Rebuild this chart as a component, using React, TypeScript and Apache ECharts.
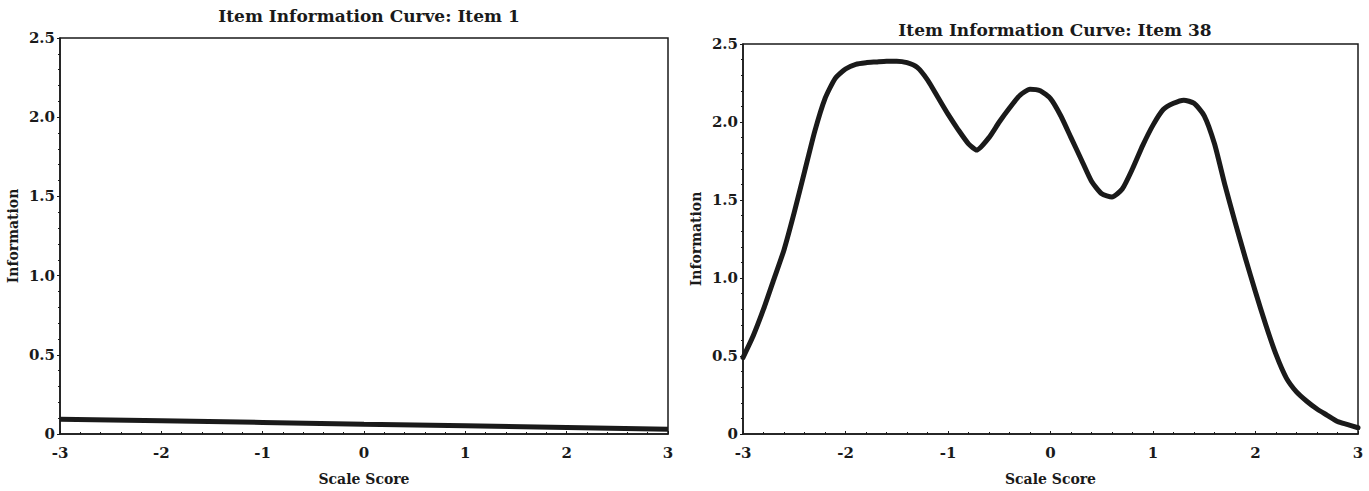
import React, { useEffect, useRef } from "react";
import * as echarts from "echarts";

const xTicks = [-3, -2, -1, 0, 1, 2, 3];
const yTicks = [0, 0.5, 1.0, 1.5, 2.0, 2.5];

const item1X = [-3, -2, -1, 0, 1, 2, 3];
const item1Y = [0.093, 0.083, 0.073, 0.062, 0.052, 0.041, 0.03];

const item38X = [
  -3.0, -2.9, -2.8, -2.7, -2.6, -2.5, -2.4, -2.3, -2.2, -2.1, -2.0, -1.9, -1.8, -1.7, -1.6, -1.5,
  -1.4, -1.3, -1.2, -1.1, -1.0, -0.9, -0.8, -0.72, -0.6, -0.5, -0.4, -0.3, -0.2, -0.1, 0.0, 0.1,
  0.2, 0.3, 0.4, 0.5, 0.6, 0.7, 0.8, 0.9, 1.0, 1.1, 1.2, 1.3, 1.4, 1.5, 1.6, 1.7, 1.8, 1.9, 2.0,
  2.1, 2.2, 2.3, 2.4, 2.5, 2.6, 2.7, 2.8, 2.9, 3.0,
];
const item38Y = [
  0.49, 0.63, 0.8, 0.99, 1.18, 1.42, 1.68, 1.94, 2.15, 2.28, 2.34, 2.37, 2.38, 2.385, 2.39, 2.39,
  2.38, 2.35, 2.27, 2.16, 2.05, 1.95, 1.86, 1.82, 1.9, 2.0, 2.09, 2.17, 2.21, 2.2, 2.15, 2.04,
  1.9, 1.76, 1.62, 1.54, 1.52, 1.57, 1.7, 1.85, 1.98, 2.08, 2.12, 2.14, 2.12, 2.04, 1.86, 1.6,
  1.36, 1.13, 0.91, 0.7, 0.51, 0.36, 0.27, 0.21, 0.16, 0.12, 0.08, 0.06, 0.04,
];

const titles = ["Item Information Curve: Item 1", "Item Information Curve: Item 38"];

const FONT = "'DejaVu Serif', 'Liberation Serif', serif";
const INK = "#1a1a1a";

function xAxisFor(gridIndex: number) {
  return {
    type: "value",
    gridIndex,
    min: xTicks[0],
    max: xTicks[xTicks.length - 1],
    interval: 1,
    name: "Scale Score",
    nameLocation: "middle",
    nameGap: 38,
    nameTextStyle: { fontFamily: FONT, fontWeight: "bold", fontSize: 14, color: INK },
    axisLine: { show: true, onZero: false, lineStyle: { color: INK, width: 1.5 } },
    axisTick: { show: true, inside: true, length: 3, lineStyle: { color: INK } },
    minorTick: { show: true, splitNumber: 5, length: 2, lineStyle: { color: INK } },
    splitLine: { show: false },
    axisLabel: {
      fontFamily: FONT,
      fontWeight: "bold",
      fontSize: 15,
      color: INK,
      margin: 11,
      formatter: (v: number) => String(v),
    },
  };
}

function yAxisFor(gridIndex: number) {
  return {
    type: "value",
    gridIndex,
    min: yTicks[0],
    max: yTicks[yTicks.length - 1],
    interval: 0.5,
    name: "Information",
    nameLocation: "middle",
    nameGap: 40,
    nameTextStyle: { fontFamily: FONT, fontWeight: "bold", fontSize: 14, color: INK },
    axisLine: { show: true, onZero: false, lineStyle: { color: INK, width: 1.5 } },
    axisTick: { show: true, length: 3, lineStyle: { color: INK } },
    minorTick: { show: true, splitNumber: 5, length: 2, lineStyle: { color: INK } },
    splitLine: { show: false },
    axisLabel: {
      fontFamily: FONT,
      fontWeight: "bold",
      fontSize: 15,
      color: INK,
      margin: 5,
      formatter: (v: number) => (v === 0 ? "0" : v.toFixed(1)),
    },
  };
}

export default function App() {
  const ref = useRef<HTMLDivElement>(null);
  useEffect(() => {
    if (!ref.current) return;
    const chart = echarts.init(ref.current, null, { renderer: "svg" });
    chart.setOption({
      animation: false,
      backgroundColor: "#ffffff",
      title: [
        {
          text: titles[0],
          left: 364,
          top: 2,
          textAlign: "center",
          textStyle: { fontFamily: FONT, fontWeight: "bold", fontSize: 17, color: INK },
        },
        {
          text: titles[1],
          left: 1050,
          top: 16,
          textAlign: "center",
          textStyle: { fontFamily: FONT, fontWeight: "bold", fontSize: 17, color: INK },
        },
      ],
      grid: [
        {
          left: 60,
          top: 38,
          width: 608,
          height: 400,
          show: true,
          borderColor: INK,
          borderWidth: 1.5,
          backgroundColor: "transparent",
        },
        {
          left: 743,
          top: 44,
          width: 615,
          height: 397,
          show: true,
          borderColor: INK,
          borderWidth: 1.5,
          backgroundColor: "transparent",
        },
      ],
      xAxis: [xAxisFor(0), xAxisFor(1)],
      yAxis: [yAxisFor(0), yAxisFor(1)],
      series: [
        {
          type: "line",
          xAxisIndex: 0,
          yAxisIndex: 0,
          data: item1X.map((x, i) => [x, item1Y[i]]),
          showSymbol: false,
          lineStyle: { color: INK, width: 5 },
        },
        {
          type: "line",
          xAxisIndex: 1,
          yAxisIndex: 1,
          data: item38X.map((x, i) => [x, item38Y[i]]),
          showSymbol: false,
          smooth: 0.2,
          lineStyle: { color: INK, width: 5, join: "round", cap: "round" },
        },
      ],
    });
    return () => chart.dispose();
  }, []);
  return (
    <div
      ref={ref}
      style={{ position: "fixed", left: 0, top: 0, width: 1369, height: 491, background: "#fff" }}
    />
  );
}
